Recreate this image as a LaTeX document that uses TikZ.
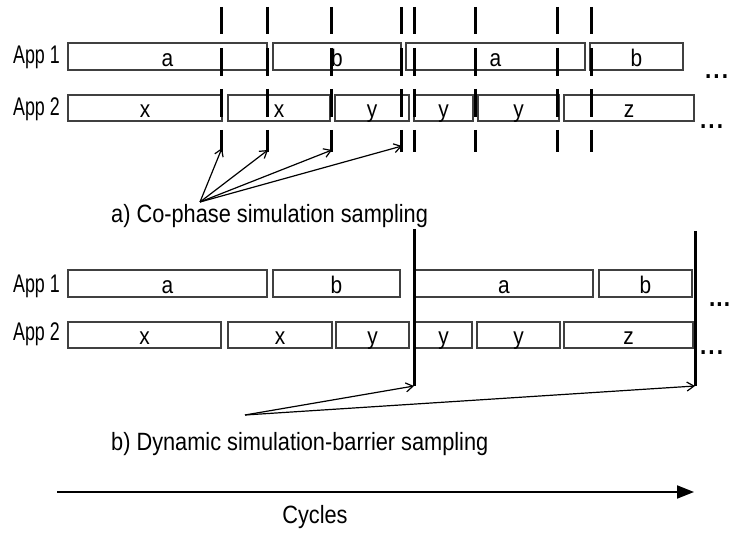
\documentclass[tikz,border=0pt]{standalone}
\usepackage{fontspec}
\setmainfont{Liberation Sans}[FakeStretch=0.87]
\newfontfamily\appfont{Liberation Sans}[FakeStretch=0.70]
\usetikzlibrary{arrows.meta}
\begin{document}
\begin{tikzpicture}[x=1pt,y=-1pt,
  seg/.style={draw=black!75,line width=1.6pt,inner sep=0pt,minimum height=26pt,
    font=\fontsize{24}{26}\selectfont,text height=20pt,text depth=0pt},
  lbl/.style={font=\fontsize{25}{28}\selectfont,inner sep=0pt},
  applbl/.style={font=\appfont\fontsize{25.5}{28}\selectfont,inner sep=0pt,anchor=east},
  tick/.style={line width=3pt},
  barrier/.style={line width=3pt},
  ptr/.style={line width=1.2pt,-{Straight Barb[length=7pt,width=9pt]}},
  dotsty/.style={font=\bfseries\fontsize{26}{28}\selectfont,inner sep=0pt,anchor=base west}]
\useasboundingbox (0,0) rectangle (732,534);

% ---------- part a ----------
\node[applbl] (a1) at (60,57) {App 1};
\node[applbl] (a2) at (60,109) {App 2};

\node[seg,minimum width=199pt,minimum height=27pt] (ta1) at (167.5,56.5) {a};
\node[seg,minimum width=128pt,minimum height=27pt] (ta2) at (337,56.5) {b};
\node[seg,minimum width=179pt,minimum height=27pt] (ta3) at (495.5,56.5) {a};
\node[seg,minimum width=93pt,minimum height=27pt] (ta4) at (636.5,56.5) {b};

\node[seg,minimum width=154pt] (tb1) at (145,108) {x};
\node[seg,minimum width=102pt] (tb2) at (279,108) {x};
\node[seg,minimum width=74pt] (tb3) at (372,108) {y};
\node[seg,minimum width=59pt] (tb4) at (443.5,108) {y};
\node[seg,minimum width=81pt] (tb5) at (518.5,108) {y};
\node[seg,minimum width=130pt] (tb6) at (629,108) {z};

\node[dotsty] (td1) at (705,79) {.\hspace{2pt}.\hspace{2pt}.};
\node[dotsty] (td2) at (700,129) {.\hspace{2pt}.\hspace{2pt}.};

\foreach \mx in {221,267,331,401,414,475,557,591}{
  \foreach \ya/\yb in {7/34,48/76,89/117,130/152}{
    \draw[tick] (\mx,\ya) -- (\mx,\yb);
  }
}

\coordinate (srcA) at (200,202);
\coordinate (tipA1) at (222,148);
\coordinate (tipA2) at (268,150);
\coordinate (tipA3) at (332,150);
\coordinate (tipA4) at (402,146);
\draw[ptr] (srcA) -- (tipA1);
\draw[ptr] (srcA) -- (tipA2);
\draw[ptr] (srcA) -- (tipA3);
\draw[ptr] (srcA) -- (tipA4);

\node[lbl,anchor=west] (capA) at (111,216) {a) Co-phase simulation sampling};

% ---------- part b ----------
\node[applbl] (b1) at (60,286) {App 1};
\node[applbl] (b2) at (60,334) {App 2};

\node[seg,minimum width=199pt,minimum height=27pt] (ba1) at (167.5,283.5) {a};
\node[seg,minimum width=127pt,minimum height=27pt] (ba2) at (336.5,283.5) {b};
\node[seg,minimum width=178pt,minimum height=27pt] (ba3) at (504,283.5) {a};
\node[seg,minimum width=93pt,minimum height=27pt] (ba4) at (645.5,283.5) {b};

\node[seg,minimum width=153pt] (bb1) at (144.5,335) {x};
\node[seg,minimum width=104pt] (bb2) at (280,335) {x};
\node[seg,minimum width=73pt] (bb3) at (372.5,335) {y};
\node[seg,minimum width=57pt] (bb4) at (443.5,335) {y};
\node[seg,minimum width=83pt] (bb5) at (518.5,335) {y};
\node[seg,minimum width=129pt] (bb6) at (628.5,335) {z};

\node[dotsty] (bd1) at (709,307) {.\hspace{1pt}.\hspace{1pt}.};
\node[dotsty] (bd2) at (700,355) {.\hspace{2pt}.\hspace{2pt}.};

\coordinate (bar1top) at (414,229);
\coordinate (bar1bot) at (414,386);
\coordinate (bar2top) at (695,231);
\coordinate (bar2bot) at (695,386);
\draw[barrier] (bar1top) -- (bar1bot);
\draw[barrier] (bar2top) -- (bar2bot);

\coordinate (srcB) at (245,415);
\draw[ptr] (srcB) -- (bar1bot);
\draw[ptr] (srcB) -- (bar2bot);

\node[lbl,anchor=west] (capB) at (111,444) {b) Dynamic simulation-barrier sampling};

% ---------- cycles ----------
\coordinate (cyS) at (57,492);
\coordinate (cyE) at (694,492);
\draw[line width=2pt,-{Triangle[length=17pt,width=13pt]}] (cyS) -- (cyE);
\node[lbl] (cyc) at (315,517) {Cycles};
\end{tikzpicture}
\end{document}
